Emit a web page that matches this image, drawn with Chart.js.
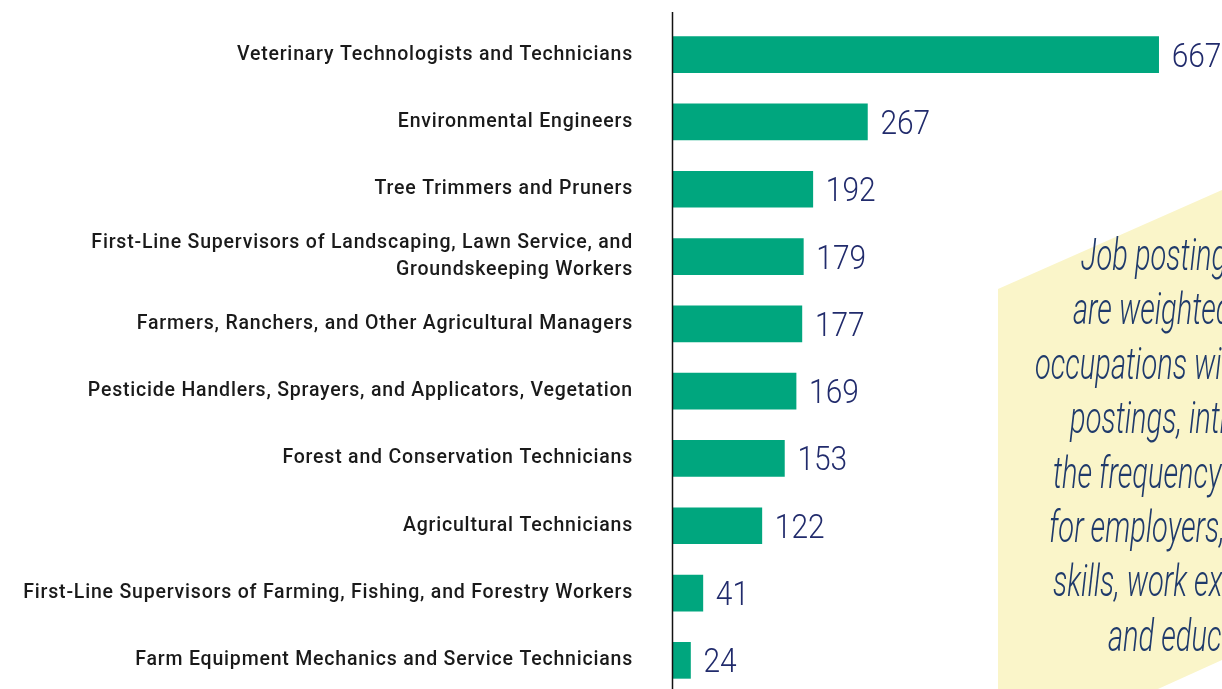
<!DOCTYPE html>
<html>
<head>
<meta charset="utf-8">
<script src="https://cdn.jsdelivr.net/npm/chart.js@4.4.1/dist/chart.umd.min.js"></script>
<style>
    html, body { margin: 0; padding: 0; background: #fff; overflow: hidden; }
    #wrap { position: relative; width: 1222px; height: 700px; }
</style>
</head>
<body>
<div id="wrap"><canvas id="postingsChart"></canvas></div>
<script>
// Occupations and their job posting counts
const occupations = [
    'Veterinary Technologists and Technicians',
    'Environmental Engineers',
    'Tree Trimmers and Pruners',
    ['First-Line Supervisors of Landscaping, Lawn Service, and', 'Groundskeeping Workers'],
    'Farmers, Ranchers, and Other Agricultural Managers',
    'Pesticide Handlers, Sprayers, and Applicators, Vegetation',
    'Forest and Conservation Technicians',
    'Agricultural Technicians',
    'First-Line Supervisors of Farming, Fishing, and Forestry Workers',
    'Farm Equipment Mechanics and Service Technicians'
];
const postings = [667, 267, 192, 179, 177, 169, 153, 122, 41, 24];

// Side note text, one entry per line
const noteLines = [
    'Job postings data',
    'are weighted toward',
    'occupations with more',
    'postings, introducing',
    'the frequency of demand',
    'for employers, requested',
    'skills, work experience,',
    'and education.'
];
const noteLineX = [1081, 1073, 1035, 1070, 1053, 1049, 1053, 1108];

const BAR_COLOR = '#00a67e';
const VALUE_COLOR = '#212b6c';
const NOTE_COLOR = '#1f3a6b';

// Wider tracking for the category labels (DIN-like look), off again for the rest
const labelTracking = {
    id: 'labelTracking',
    beforeDraw(chart) {
        chart.ctx.letterSpacing = '0.8px';
    },
    beforeDatasetsDraw(chart) {
        chart.ctx.letterSpacing = '0px';
    }
};

// Vertical axis line, drawn a bit above the plot like the original
const axisLine = {
    id: 'axisLine',
    afterDatasetsDraw(chart) {
        const ctx = chart.ctx;
        const x = chart.chartArea.left;
        ctx.save();
        ctx.strokeStyle = '#111';
        ctx.lineWidth = 1.5;
        ctx.beginPath();
        ctx.moveTo(x - 0.5, 12);
        ctx.lineTo(x - 0.5, chart.height);
        ctx.stroke();
        ctx.restore();
    }
};

// Count labels at the end of each bar, in a condensed look
const valueLabels = {
    id: 'valueLabels',
    afterDatasetsDraw(chart) {
        const ctx = chart.ctx;
        const meta = chart.getDatasetMeta(0);
        ctx.save();
        ctx.fillStyle = VALUE_COLOR;
        ctx.font = '300 34px Roboto';
        ctx.textBaseline = 'alphabetic';
        meta.data.forEach((bar, i) => {
            ctx.save();
            ctx.translate(bar.x + 13, bar.y + 12);
            ctx.scale(0.88, 1);
            ctx.fillText(String(postings[i]), 0, 0);
            ctx.restore();
        });
        ctx.restore();
    }
};

// Yellow note panel on the right
const notePanel = {
    id: 'notePanel',
    beforeDatasetsDraw(chart) {
        const ctx = chart.ctx;
        ctx.save();
        ctx.fillStyle = '#faf5c9';
        ctx.beginPath();
        ctx.moveTo(998, 289);
        ctx.lineTo(1222, 190);
        ctx.lineTo(1222, 660);
        ctx.lineTo(1158, 689);
        ctx.lineTo(998, 689);
        ctx.closePath();
        ctx.fill();

        ctx.fillStyle = NOTE_COLOR;
        ctx.font = 'italic 300 44px Roboto';
        ctx.textBaseline = 'alphabetic';
        noteLines.forEach((line, i) => {
            ctx.save();
            ctx.translate(noteLineX[i], 270 + i * 54.4);
            ctx.scale(0.66, 1);
            ctx.fillText(line, 0, 0);
            ctx.restore();
        });
        ctx.restore();
    }
};

const config = {
    type: 'bar',
    data: {
        labels: occupations,
        datasets: [{
            data: postings,
            backgroundColor: BAR_COLOR,
            barThickness: 36,
            borderWidth: 0
        }]
    },
    options: {
        indexAxis: 'y',
        responsive: true,
        maintainAspectRatio: false,
        animation: false,
        layout: {
            padding: { top: 21, bottom: 6, left: 0, right: 0 }
        },
        plugins: {
            legend: { display: false },
            title: { display: false },
            tooltip: { enabled: false }
        },
        scales: {
            x: {
                display: false,
                min: 0,
                max: 754
            },
            y: {
                grid: { display: false, drawTicks: false },
                border: { display: false },
                afterFit(scale) {
                    scale.width = 673; // keep the axis where the original has it
                    scale.paddingTop = 0;
                    scale.paddingBottom = 0;
                },
                ticks: {
                    padding: 40,
                    color: '#1a1a1a',
                    font: { family: 'Roboto', size: 19.5, weight: '500', lineHeight: 1.35 }
                }
            }
        }
    },
    plugins: [labelTracking, notePanel, axisLine, valueLabels]
};

const chartContext = document.getElementById('postingsChart').getContext('2d');
const postingsChart = new Chart(chartContext, config);
</script>
</body>
</html>
